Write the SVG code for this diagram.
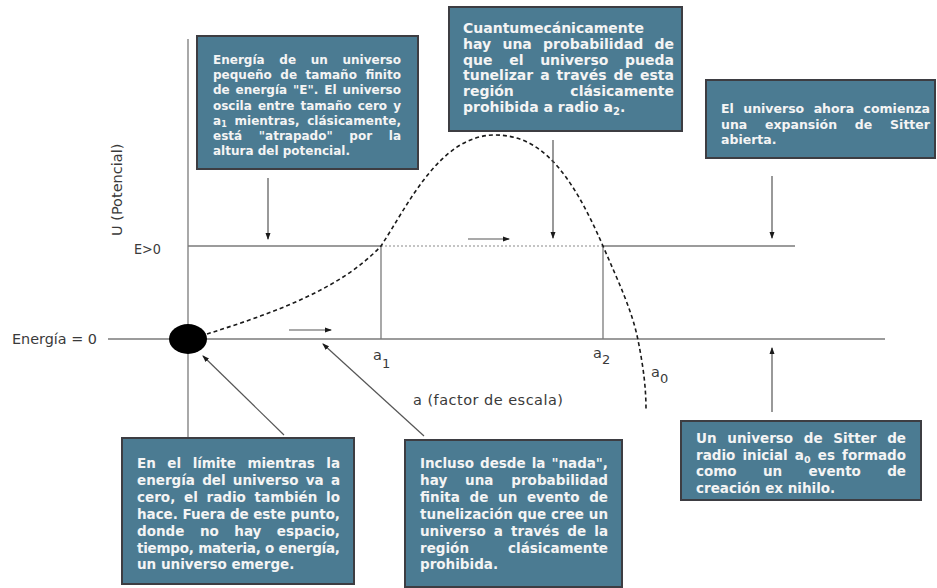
<svg xmlns="http://www.w3.org/2000/svg" width="937" height="588" viewBox="0 0 937 588">
<defs>
<marker id="ah" markerWidth="7" markerHeight="6" refX="6" refY="3" orient="auto" markerUnits="userSpaceOnUse">
<path d="M0,0.5 L7,3 L0,5.5 z" fill="#1a1a1a"/>
</marker>
<style>
.box{fill:#4b7b92;stroke:#3d3d42;stroke-width:2}
.bt{font-family:"DejaVu Sans","Liberation Sans",sans-serif;font-weight:bold;fill:#f4f4f4}
.ln{stroke:#7a7a7a;stroke-width:1.3;fill:none}
.ar{stroke:#555;stroke-width:1.2;fill:none;marker-end:url(#ah)}
.lbl{font-family:"DejaVu Sans","Liberation Sans",sans-serif;fill:#3a3a3a;font-size:14.5px}
</style>
</defs>
<rect width="937" height="588" fill="#ffffff"/>

<g id="connectors">
<line class="ln" x1="188" y1="39" x2="188" y2="438"/>
<line class="ln" x1="108" y1="339" x2="885" y2="339"/>
<line class="ln" x1="188" y1="246" x2="381" y2="246"/>
<line x1="381" y1="246" x2="603" y2="246" stroke="#8a8a8a" stroke-width="1.2" stroke-dasharray="2,2"/>
<line class="ln" x1="603" y1="246" x2="795" y2="246"/>
<line class="ln" x1="381" y1="246" x2="381" y2="339"/>
<line class="ln" x1="603" y1="246" x2="603" y2="339"/>
<path d="M207,334 C270,314 340,290 381,246 C408,205 440,135 495,135 C540,135 570,170 603,246 C618,281 632,310 638,340 C644,370 646,390 646,410" fill="none" stroke="#1a1a1a" stroke-width="1.6" stroke-dasharray="4,3"/>
<ellipse cx="188" cy="339" rx="19" ry="15" fill="#000"/>
<line class="ar" x1="268" y1="178" x2="268" y2="239"/>
<line class="ar" x1="553" y1="140" x2="553" y2="238"/>
<line class="ar" x1="772" y1="176" x2="772" y2="238"/>
<line class="ar" x1="772" y1="412" x2="772" y2="348"/>
<line class="ar" x1="289" y1="330" x2="331" y2="330"/>
<line class="ar" x1="468" y1="239" x2="509" y2="239"/>
<line class="ar" x1="284" y1="435" x2="203" y2="356"/>
<line class="ar" x1="424" y1="436" x2="323" y2="344"/>
</g>

<g id="labels">
<text class="lbl" x="12" y="344" textLength="85" lengthAdjust="spacingAndGlyphs">Energía = 0</text>
<text class="lbl" x="134" y="254" textLength="27" lengthAdjust="spacingAndGlyphs">E&gt;0</text>
<text class="lbl" transform="translate(122,236) rotate(-90)" x="0" y="0">U (Potencial)</text>
<text class="lbl" x="373" y="360">a<tspan dy="8" font-size="13">1</tspan></text>
<text class="lbl" x="593" y="358">a<tspan dy="6" font-size="13">2</tspan></text>
<text class="lbl" x="651" y="377">a<tspan dy="6" font-size="13">0</tspan></text>
<text class="lbl" x="413" y="405" textLength="150">a (factor de escala)</text>
</g>

<g id="box1">
<rect class="box" x="197" y="36" width="221" height="133"/>
<g class="bt" font-size="12">
<text x="213" y="64" word-spacing="10.5" textLength="188">Energía de un universo</text>
<text x="213" y="79.2" word-spacing="4.3" textLength="188">pequeño de tamaño finito</text>
<text x="213" y="94.4" word-spacing="1.7" textLength="188">de energía "E". El universo</text>
<text x="213" y="109.6" word-spacing="2" textLength="188">oscila entre tamaño cero y</text>
<text x="213" y="124.8" word-spacing="3.5" textLength="188">a<tspan dy="2" font-size="8">1</tspan><tspan dy="-2"> mientras, clásicamente,</tspan></text>
<text x="213" y="140" word-spacing="12.5" textLength="188">está "atrapado" por la</text>
<text x="213" y="155.2">altura del potencial.</text>
</g>
</g>

<g id="box2">
<rect class="box" x="449" y="7" width="233" height="124"/>
<g class="bt" font-size="14">
<text x="463" y="33">Cuantumecánicamente</text>
<text x="463" y="48.8" word-spacing="6.3" textLength="211">hay una probabilidad de</text>
<text x="463" y="64.6" word-spacing="11.8" textLength="211">que el universo pueda</text>
<text x="463" y="80.4" word-spacing="2.1" textLength="211">tunelizar a través de esta</text>
<text x="463" y="96.2">región</text>
<text x="674" y="96.2" text-anchor="end">clásicamente</text>
<text x="463" y="112">prohibida a radio a<tspan dy="3" font-size="10">2</tspan><tspan dy="-3">.</tspan></text>
</g>
</g>

<g id="box3">
<rect class="box" x="706" y="80" width="229" height="78"/>
<g class="bt" font-size="12.5">
<text x="721" y="113" word-spacing="5.1" textLength="209">El universo ahora comienza</text>
<text x="721" y="128.5" word-spacing="13.4" textLength="209">una expansión de Sitter</text>
<text x="721" y="144">abierta.</text>
</g>
</g>

<g id="box4">
<rect class="box" x="122" y="438" width="232" height="146"/>
<g class="bt" font-size="13.5">
<text x="137" y="468" word-spacing="7" textLength="203">En el límite mientras la</text>
<text x="137" y="484.9" word-spacing="2.5" textLength="203">energía del universo va a</text>
<text x="137" y="501.8" word-spacing="4" textLength="203">cero, el radio también lo</text>
<text x="137" y="518.7" textLength="203">hace. Fuera de este punto,</text>
<text x="137" y="535.6" word-spacing="10.7" textLength="203">donde no hay espacio,</text>
<text x="137" y="552.5" textLength="203">tiempo, materia, o energía,</text>
<text x="137" y="569.4">un universo emerge.</text>
</g>
</g>

<g id="box5">
<rect class="box" x="405" y="440" width="217" height="147"/>
<g class="bt" font-size="13.5">
<text x="420" y="468" word-spacing="1.5" textLength="188">Incluso desde la "nada",</text>
<text x="420" y="484.9" word-spacing="13" textLength="188">hay una probabilidad</text>
<text x="420" y="501.8" word-spacing="4.9" textLength="188">finita de un evento de</text>
<text x="420" y="518.7" textLength="188">tunelización que cree un</text>
<text x="420" y="535.6" word-spacing="3.4" textLength="188">universo a través de la</text>
<text x="420" y="552.5">región</text>
<text x="608" y="552.5" text-anchor="end">clásicamente</text>
<text x="420" y="569.4">prohibida.</text>
</g>
</g>

<g id="box6">
<rect class="box" x="681" y="421" width="240" height="79"/>
<g class="bt" font-size="13.5">
<text x="696" y="443" word-spacing="6" textLength="210">Un universo de Sitter de</text>
<text x="696" y="459.5" word-spacing="2.5" textLength="210">radio inicial a<tspan dy="3" font-size="9.5">0</tspan><tspan dy="-3"> es formado</tspan></text>
<text x="696" y="476" word-spacing="21.6" textLength="210">como un evento de</text>
<text x="696" y="492.5">creación ex nihilo.</text>
</g>
</g>
</svg>
